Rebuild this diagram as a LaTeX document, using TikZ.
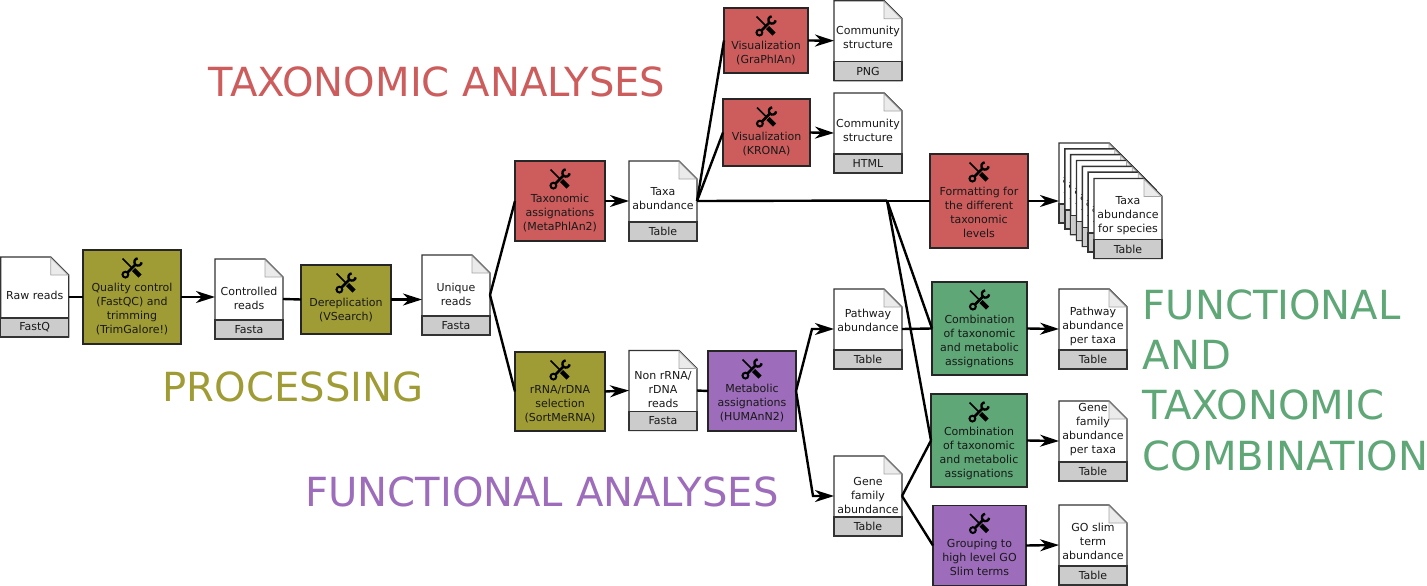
\documentclass[tikz,border=0pt]{standalone}
\usepackage{fontspec}
\setmainfont{DejaVu Sans}
\usetikzlibrary{arrows.meta}

\definecolor{procolor}{RGB}{160,156,53}
\definecolor{taxcolor}{RGB}{205,92,92}
\definecolor{funcolor}{RGB}{157,108,187}
\definecolor{comcolor}{RGB}{95,167,119}

\tikzset{
    conn/.style={line width=2.4pt, black},
    arr/.style={conn, -{Stealth[length=19pt,width=12pt,inset=6pt]}},
    docline/.style={line width=1.4pt, draw=black!80},
    docname/.style={inner sep=0, outer sep=0, minimum width=68pt, minimum height=80pt},
    doctext/.style={inner sep=0, align=center, text=black!90, font=\fontsize{11}{14}\selectfont},
    toolbox/.style={draw=black!85, line width=1.4pt, inner sep=0, outer sep=0},
    title/.style={inner sep=0, font=\fontsize{40.1}{50.4}\selectfont},
    toolicon/.pic={
        \draw[line width=2.6pt, black] (-5,5) -- (4,-4);
        \draw[line width=2pt, black] (-6.6,6.6) circle (2.9);
        \draw[line width=2.4pt, black] plot[smooth, domain=5:265, samples=12] ({6+3.6*cos(\x)},{-6+3.6*sin(\x)});
        \draw[line width=1.6pt, black] (-9.5,-9.5) -- (0,0);
        \draw[line width=4.4pt, black] (1.5,1.5) -- (8,8);
    }
}

% doc sheet: name, left, top, y of the text, text, file type
\newcommand{\docfile}[6]{
    \node[docname] (#1) at ({#2+34},{#3+40}) {};
    \draw[docline, fill=white] (#2,#3) -- ({#2+50},#3) -- ({#2+68},{#3+18}) -- ({#2+68},{#3+80}) -- (#2,{#3+80}) -- cycle;
    \draw[line width=0.8pt, draw=black!35, fill=black!8] ({#2+50},{#3+0.7}) -- ({#2+50},{#3+18}) -- ({#2+67.3},{#3+18}) -- cycle;
    \draw[docline, fill=black!20] (#2,{#3+61}) rectangle ({#2+68},{#3+80});
    \node[doctext] (#1-text) at ({#2+34},#4) {#5};
    \node[doctext] (#1-type) at ({#2+34},{#3+70.5}) {#6};
}

% tool box: name, centre x, centre y, width, height, colour, text
\newcommand{\toolstep}[7]{
    \node[toolbox, fill=#6, minimum width=#4pt, minimum height=#5pt] (#1) at (#2,#3) {};
    \pic at (#2,{#3-#5/2+18}) {toolicon};
    \node[doctext, anchor=north] (#1-text) at (#2,{#3-#5/2+33.3}) {#7};
}

\begin{document}
\begin{tikzpicture}[x=1pt, y=-1pt]
    \useasboundingbox (0,0) rectangle (1427,586);

    \node[title, text=taxcolor] (taxtitle) at (437,82) {TAXONOMIC ANALYSES};
    \node[title, text=procolor] (protitle) at (293,387) {PROCESSING};
    \node[title, text=funcolor] (funtitle) at (542,492) {FUNCTIONAL ANALYSES};
    \node[title, text=comcolor, align=left, anchor=west] (comtitle) at (1142.5,380) {FUNCTIONAL\\AND\\TAXONOMIC\\COMBINATION};

    % processing
    \docfile{raw}{0.7}{257}{295.5}{Raw reads}{FastQ}
    \toolstep{quality}{132}{297}{98}{94}{procolor}{Quality control\\(FastQC) and\\trimming\\(TrimGalore!)}
    \docfile{controlled}{215}{259}{298.5}{Controlled\\reads}{Fasta}
    \toolstep{derep}{346}{299.5}{90}{69}{procolor}{Dereplication\\(VSearch)}
    \docfile{unique}{422}{255}{294.5}{Unique\\reads}{Fasta}

    % taxonomic
    \toolstep{taxo}{560}{201}{90}{80}{taxcolor}{Taxonomic\\assignations\\(MetaPhlAn2)}
    \docfile{taxa}{629}{161}{198.7}{Taxa\\abundance}{Table}
    \toolstep{graphlan}{766}{40.5}{84}{65}{taxcolor}{Visualization\\(GraPhlAn)}
    \docfile{png}{834}{0.7}{37.5}{Community\\structure}{PNG}
    \toolstep{krona}{766.5}{132.5}{87}{67}{taxcolor}{Visualization\\(KRONA)}
    \docfile{html}{834}{93}{130.5}{Community\\structure}{HTML}
    \toolstep{format}{979}{201}{98}{94}{taxcolor}{Formatting for\\the different\\taxonomic\\levels}
    \foreach \i in {0,...,5}{
        \pgfmathsetmacro{\sheetx}{1059+5.83*\i}
        \pgfmathsetmacro{\sheety}{143+5.83*\i}
        \docfile{sheet\i}{\sheetx}{\sheety}{\sheety+37}{}{}
        \node[doctext, anchor=west] (sheet\i-a) at ({\sheetx+3.4},{\sheety+37}) {a};
        \node[doctext, anchor=west] (sheet\i-f) at ({\sheetx+4.5},{\sheety+51}) {f};
    }
    \docfile{species}{1094}{178.5}{216}{Taxa\\abundance\\for species}{Table}

    % functional
    \toolstep{rrna}{560}{391.5}{90}{79}{procolor}{rRNA/rDNA\\selection\\(SortMeRNA)}
    \docfile{nonrrna}{629}{350.5}{389.5}{Non rRNA/\\rDNA\\reads}{Fasta}
    \toolstep{metabolic}{752}{391}{88}{80}{funcolor}{Metabolic\\assignations\\(HUMAnN2)}
    \docfile{pathway}{834}{289}{320.5}{Pathway\\abundance}{Table}
    \docfile{gene}{834}{456}{495.5}{Gene\\family\\abundance}{Table}

    % combination
    \toolstep{combpath}{979.5}{328.5}{95}{93}{comcolor}{Combination\\of taxonomic\\and metabolic\\assignations}
    \docfile{pathtaxa}{1059}{289}{326}{Pathway\\abundance\\per taxa}{Table}
    \toolstep{combgene}{979}{440.5}{96}{93}{comcolor}{Combination\\of taxonomic\\and metabolic\\assignations}
    \docfile{genetaxa}{1059}{401}{429.7}{Gene\\family\\abundance\\per taxa}{Table}
    \toolstep{goslim}{979.5}{545.5}{93}{80}{funcolor}{Grouping to\\high level GO\\Slim terms}
    \docfile{goterm}{1059}{505}{541.5}{GO slim\\term\\abundance}{Table}

    \coordinate (branch) at (887,200.5);
    \coordinate (pathelbow) at (812,329);
    \coordinate (geneelbow) at (813,496);

    \draw[conn] (raw.east) -- (quality.west);
    \draw[arr] (quality.east) -- (quality.east -| controlled.west);
    \draw[conn] (controlled.east) -- (derep.west);
    \draw[arr] (derep.east) -- (derep.east -| unique.west);
    \draw[conn] (unique.east) -- (taxo.west);
    \draw[conn] (unique.east) -- (rrna.west);
    \draw[arr] (taxo.east) -- (taxa.west);
    \draw[conn] (taxa.east) -- (graphlan.west);
    \draw[conn] (taxa.east) -- (krona.west);
    \draw[conn] (taxa.east) -- (format.west);
    \draw[conn] (taxa.east) -- (branch);
    \draw[arr] (graphlan.east) -- (png.west);
    \draw[arr] (krona.east) -- (html.west);
    \draw[arr] (format.east) -- (format.east -| sheet0.west);
    \draw[arr] (rrna.east) -- (nonrrna.west);
    \draw[conn] (nonrrna.east) -- (metabolic.west);
    \draw[arr] (metabolic.east) -- (pathelbow) -- (pathelbow -| pathway.west);
    \draw[arr] (metabolic.east) -- (geneelbow) -- (geneelbow -| gene.west);
    \draw[conn] (branch) -- (combpath.west);
    \draw[conn] (branch) -- (combgene.west);
    \draw[conn] (pathway.east) -- (combpath.west);
    \draw[conn] (gene.east) -- (combgene.west);
    \draw[conn] (gene.east) -- (goslim.west);
    \draw[arr] (combpath.east) -- (pathtaxa.west);
    \draw[arr] (combgene.east) -- (genetaxa.west);
    \draw[arr] (goslim.east) -- (goterm.west);
\end{tikzpicture}
\end{document}
